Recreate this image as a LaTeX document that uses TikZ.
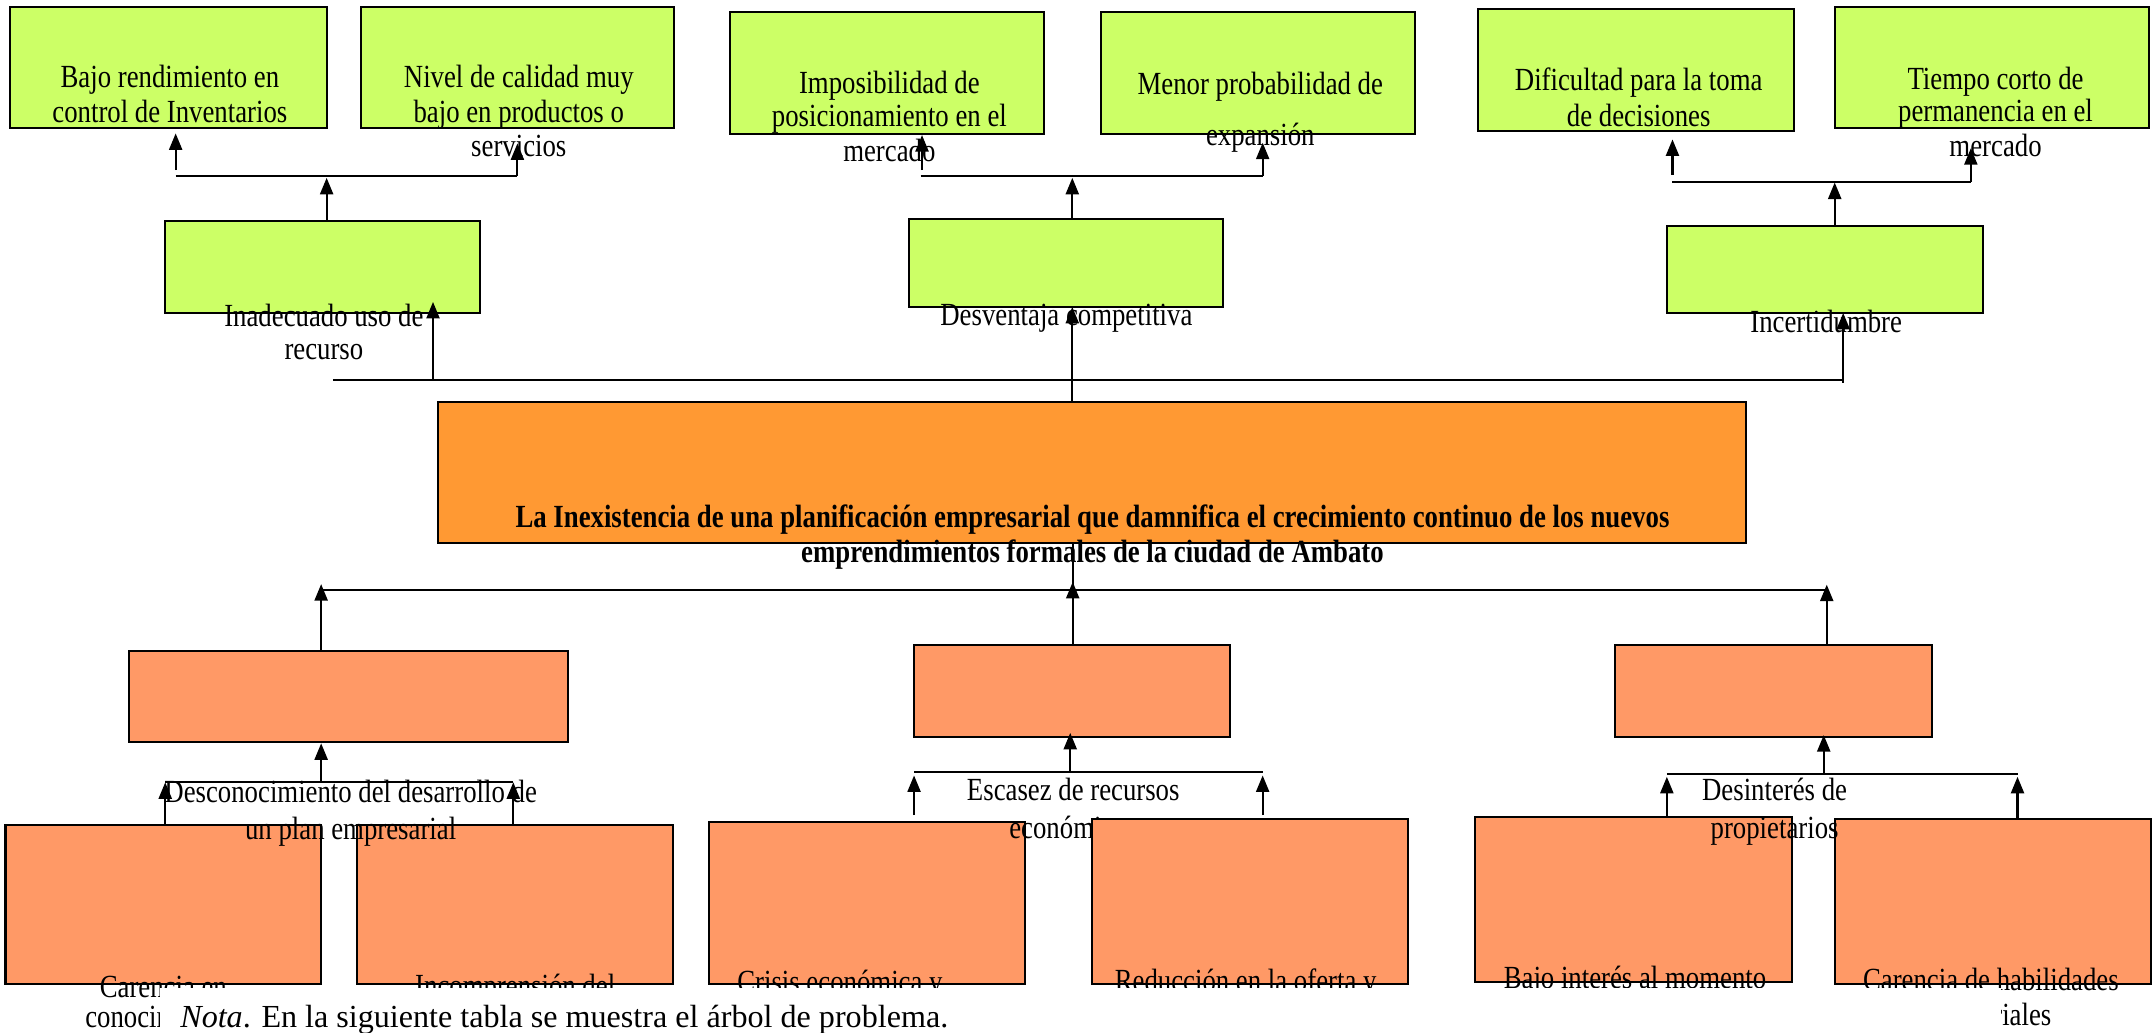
\documentclass[tikz,border=0pt]{standalone}
\usepackage{fontspec}
\setmainfont{Liberation Serif}
\newfontfamily\dfont[FakeStretch=0.83]{Liberation Serif}
\usetikzlibrary{arrows.meta}
\definecolor{gfill}{HTML}{CCFF66}
\definecolor{mfill}{HTML}{FF9933}
\definecolor{ofill}{HTML}{FF9966}
\tikzset{
  boxbase/.style={draw=black, line width=1.5pt, rectangle, inner sep=0pt},
  gbox/.style={boxbase, fill=gfill},
  mbox/.style={boxbase, fill=mfill},
  obox/.style={boxbase, fill=ofill},
  lbl/.style={anchor=base, inner sep=0pt, font=\dfont\fontsize{23.5}{26}\selectfont},
  blbl/.style={anchor=base, inner sep=0pt, font=\dfont\bfseries\fontsize{23.5}{26}\selectfont},
  ln/.style={line width=1.5pt, black},
  arr/.style={ln, -{Triangle[length=12pt,width=9.5pt]}},
}
\begin{document}
\begin{tikzpicture}[x=1pt,y=-1pt]
\useasboundingbox (0,0) rectangle (1568,752);

% ---------- effect boxes (top row) ----------
\node[gbox, minimum width=231pt, minimum height=88pt] (E1) at (122.5,49) {};
\node[gbox, minimum width=228pt, minimum height=88pt] (E2) at (377,49) {};
\node[gbox, minimum width=229pt, minimum height=88.8pt] (E3) at (646.5,53.1) {};
\node[gbox, minimum width=229pt, minimum height=88.8pt] (E4) at (916.5,53.1) {};
\node[gbox, minimum width=230pt, minimum height=88.7pt] (E5) at (1192,51.15) {};
\node[gbox, minimum width=229pt, minimum height=88.6pt] (E6) at (1451.5,49.2) {};

% ---------- second level effects ----------
\node[gbox, minimum width=230pt, minimum height=66.8pt] (M1) at (235,194.4) {};
\node[gbox, minimum width=229pt, minimum height=64.4pt] (M2) at (776.5,191.8) {};
\node[gbox, minimum width=230.5pt, minimum height=63pt] (M3) at (1329.7,196.5) {};

% ---------- central problem ----------
\node[mbox, minimum width=953pt, minimum height=103.1pt] (P) at (795.5,344.25) {};

% ---------- causes ----------
\node[obox, minimum width=320pt, minimum height=66.4pt] (D1) at (254,507.2) {};
\node[obox, minimum width=230pt, minimum height=67pt] (D2) at (781,503.5) {};
\node[obox, minimum width=231pt, minimum height=67pt] (D3) at (1292.5,503.5) {};

\node[obox, minimum width=230pt, minimum height=116pt] (B1) at (119,659) {};
\node[obox, minimum width=230.2pt, minimum height=116pt] (B2) at (375.4,659) {};
\node[obox, minimum width=230.5pt, minimum height=118pt] (B3) at (631.75,658) {};

% ---------- connectors: top ----------
\coordinate (h1a) at (128,128.5);  \coordinate (h1b) at (377,128.5);
\coordinate (h1c) at (238,129.6);
\coordinate (e1s) at (128,124);    \coordinate (e1t) at (128,97.2);
\coordinate (e2t) at (377,104.5);
\draw[ln] (h1a) -- (h1b);
\draw[arr] (e1s) -- (e1t);
\draw[arr] (h1b) -- (e2t);
\draw[arr] (M1.north -| h1c) -- (h1c);

\coordinate (h2a) at (670.7,128.4); \coordinate (h2b) at (920,128.4);
\coordinate (h2c) at (781.3,129.6);
\coordinate (e3s) at (671.8,124);   \coordinate (e3t) at (671.8,98.4);
\coordinate (e4t) at (920,104);
\draw[ln] (h2a) -- (h2b);
\draw[arr] (e3s) -- (e3t);
\draw[arr] (h2b) -- (e4t);
\draw[arr] (M2.north -| h2c) -- (h2c);

\coordinate (h3a) at (1218.6,132.4); \coordinate (h3b) at (1436,132.4);
\coordinate (h3c) at (1336.8,133);
\coordinate (e5s) at (1218.6,127.5); \coordinate (e5t) at (1218.6,101.6);
\coordinate (e6t) at (1436,108);
\draw[ln] (h3a) -- (h3b);
\draw[arr] (e5s) -- (e5t);
\draw[arr] (h3b) -- (e6t);
\draw[arr] (M3.north -| h3c) -- (h3c);

% ---------- connectors: problem to effects ----------
\coordinate (ta) at (242.6,277); \coordinate (tb) at (1343,277);
\coordinate (m1s) at (315.5,277); \coordinate (m1t) at (315.5,220);
\coordinate (m2x) at (781.3,223.6);
\coordinate (m3s) at (1343,279); \coordinate (m3t) at (1343,228);
\draw[ln] (ta) -- (tb);
\draw[arr] (m1s) -- (m1t);
\draw[arr] (P.north -| m2x) -- (m2x);
\draw[arr] (m3s) -- (m3t);

% ---------- connectors: causes to problem ----------
\coordinate (ba) at (234,430); \coordinate (bb) at (1331,430);
\coordinate (bc) at (781.6,430);
\coordinate (d1t) at (234,425.6);
\coordinate (d2t) at (781.6,424);
\coordinate (d3t) at (1331,426);
\draw[ln] (ba) -- (bb);
\draw[ln] (P.south -| bc) -- (bc);
\draw[arr] (D1.north -| d1t) -- (d1t);
\draw[arr] (D2.north -| d2t) -- (d2t);
\draw[arr] (D3.north -| d3t) -- (d3t);

% ---------- connectors: sub-causes ----------
\coordinate (k1a) at (120.4,569.6); \coordinate (k1b) at (374,569.6);
\coordinate (k1c) at (234,569.6);   \coordinate (k1t) at (234,541.6);
\coordinate (k1l) at (120.4,570);   \coordinate (k1r) at (374,570);
\draw[ln] (k1a) -- (k1b);
\draw[arr] (k1c) -- (k1t);
\draw[arr] (B1.north -| k1l) -- (k1l);
\draw[arr] (B2.north -| k1r) -- (k1r);

% labels (effects)
\node[lbl] (t1a) at (123.8,64) {Bajo rendimiento en};
\node[lbl] (t1b) at (123.8,89) {control de Inventarios};
\node[lbl] (t2a) at (378,64) {Nivel de calidad muy};
\node[lbl] (t2b) at (378,89) {bajo en productos o};
\node[lbl] (t2c) at (378,114) {servicios};
\node[lbl] (t3a) at (648,68) {Imposibilidad de};
\node[lbl] (t3b) at (648,92.3) {posicionamiento en el};
\node[lbl] (t3c) at (648,118) {mercado};
\node[lbl] (t4a) at (918.3,69) {Menor probabilidad de};
\node[lbl] (t4b) at (918.3,106) {expansión};
\node[lbl] (t5a) at (1194,66) {Dificultad para la toma};
\node[lbl] (t5b) at (1194,92) {de decisiones};
\node[lbl] (t6a) at (1454,65) {Tiempo corto de};
\node[lbl] (t6b) at (1454,88.7) {permanencia en el};
\node[lbl] (t6c) at (1454,114) {mercado};
\node[lbl] (tm1a) at (236,238) {Inadecuado uso de};
\node[lbl] (tm1b) at (236,262) {recurso};
\node[lbl] (tm2) at (777,237) {Desventaja competitiva};
\node[lbl] (tm3) at (1330.6,242) {Incertidumbre};
\node[blbl] (tpa) at (796,384) {La Inexistencia de una planificación empresarial que damnifica el crecimiento continuo de los nuevos};
\node[blbl] (tpb) at (796,410) {emprendimientos formales de la ciudad de Ambato};
\node[lbl] (td1a) at (255.5,585) {Desconocimiento del desarrollo de};
\node[lbl] (td1b) at (255.5,612) {un plan empresarial};
\node[lbl] (td2a) at (782,583) {Escasez de recursos};
\node[lbl] (td2b) at (782,610.6) {económicos};

% boxes drawn over the cause label
\node[obox, minimum width=230.3pt, minimum height=120pt] (B4) at (910.9,657) {};
\node[obox, minimum width=231pt, minimum height=119.8pt] (B5) at (1190.5,655.4) {};
\node[obox, minimum width=230pt, minimum height=120pt] (B6) at (1452,657) {};

\coordinate (k2a) at (666,562.3); \coordinate (k2b) at (920,562.3);
\coordinate (k2c) at (779.8,562.3); \coordinate (k2t) at (779.8,534);
\coordinate (k2ls) at (666,594); \coordinate (k2lt) at (666,565);
\coordinate (k2rs) at (920,594); \coordinate (k2rt) at (920,565);
\draw[ln] (k2a) -- (k2b);
\draw[arr] (k2c) -- (k2t);
\draw[arr] (k2ls) -- (k2lt);
\draw[arr] (k2rs) -- (k2rt);

\coordinate (k3a) at (1214.5,564); \coordinate (k3b) at (1470,564);
\coordinate (k3c) at (1328.8,564); \coordinate (k3t) at (1328.8,535.6);
\coordinate (k3l) at (1214.5,566); \coordinate (k3r) at (1470,566);
\draw[ln] (k3a) -- (k3b);
\draw[arr] (k3c) -- (k3t);
\draw[arr] (B5.north -| k3l) -- (k3l);
\draw[arr] (B6.north -| k3r) -- (k3r);

\node[lbl] (td3a) at (1293,583) {Desinterés de};
\node[lbl] (td3b) at (1293,610.6) {propietarios};

% labels of the bottom boxes
\node[lbl] (tb1a) at (119,727) {Carencia en};
\node[lbl] (tb1b) at (119,749) {conocimientos};
\node[lbl] (tb2) at (375.4,726) {Incomprensión del};
\node[lbl] (tb3) at (612,723.5) {Crisis económica y};
\node[lbl] (tb4) at (907.6,722.5) {Reducción en la oferta y};
\node[lbl] (tb5) at (1191.3,720.5) {Bajo interés al momento};
\node[lbl] (tb6a) at (1450.6,721.5) {Carencia de habilidades};
\node[lbl] (tb6b) at (1441,747) {empresariales};

% caption area covering the lower part
\fill[white] (116.6,720) rectangle (1458,752);
\node[anchor=base west, inner sep=0pt, font=\fontsize{23.4}{28}\selectfont] (nota) at (131.2,749) {\textit{Nota}. En la siguiente tabla se muestra el árbol de problema.};
\end{tikzpicture}
\end{document}
